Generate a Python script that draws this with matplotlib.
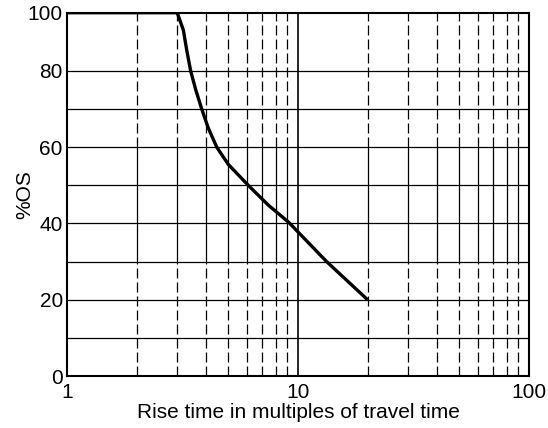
import numpy as np
import matplotlib
matplotlib.use("Agg")
import matplotlib.pyplot as plt

plt.rcParams['font.family'] = ['Liberation Sans', 'DejaVu Sans']

# curve: rise time (multiples of travel time) vs %OS
rise_time = [1.0, 3.0, 3.19, 3.30, 3.43, 3.61, 3.83, 4.09, 4.45, 4.99, 6.09, 7.44, 9.08, 13.3, 20.0]
overshoot = [100, 100, 94, 87, 80, 75, 70, 65, 60, 55.5, 50, 44.8, 40.4, 30, 20]

x_ticks = [1, 10, 100]
x_ticklabels = ['1', '10', '100']
y_ticks = [0, 20, 40, 60, 80, 100]
y_ticklabels = ['0', '20', '40', '60', '80', '100']
h_grid = [10, 20, 30, 40, 50, 60, 70, 80]
v_grid = [2, 3, 4, 5, 6, 7, 8, 9, 20, 30, 40, 50, 60, 70, 80, 90]

# the original chart squeezes the 80-100 band
k = 58 / 76


def fwd(y):
    y = np.asarray(y, dtype=float)
    return np.where(y <= 80, y, 80 + (y - 80) * k)


def inv(f):
    f = np.asarray(f, dtype=float)
    return np.where(f <= 80, f, 80 + (f - 80) / k)


fig = plt.figure(figsize=(5.48, 4.28), dpi=100)
ax = fig.add_axes([67 / 548, 1 - 376 / 428, 462 / 548, (376 - 12.7) / 428])
ax.set_xscale('log')
ax.set_yscale('function', functions=(fwd, inv))
ax.set_xlim(1, 100)
ax.set_ylim(0, 100)

glw = 0.9
dash = (0, (8, 3.2))
ax.hlines(h_grid, 1, 100, colors='black', linewidth=glw, zorder=1)
ax.vlines(v_grid, 60, 100, colors='black', linewidth=glw, linestyles=[dash], zorder=1)
ax.vlines(v_grid, 30, 60, colors='black', linewidth=glw, zorder=1)
ax.vlines(v_grid, 0, 30, colors='black', linewidth=glw, linestyles=[dash], zorder=1)
ax.vlines([10], 0, 100, colors='black', linewidth=1.2, zorder=1)

ax.plot(rise_time, overshoot, color='black', linewidth=2.4, zorder=3,
        solid_capstyle='butt', solid_joinstyle='round')

for s in ax.spines.values():
    s.set_linewidth(1.5)

ax.set_xticks(x_ticks)
ax.set_xticklabels(x_ticklabels)
ax.xaxis.set_minor_locator(matplotlib.ticker.NullLocator())
ax.set_yticks(y_ticks)
ax.set_yticklabels(y_ticklabels)
ax.yaxis.set_minor_locator(matplotlib.ticker.NullLocator())
ax.tick_params(axis='both', length=0, labelsize=15, pad=3)
ax.tick_params(axis='x', pad=5)

ax.set_xlabel('Rise time in multiples of travel time', fontsize=15, labelpad=1)
ax.set_ylabel('%OS', fontsize=15, labelpad=-5)

fig.savefig('out.png', dpi=100)
